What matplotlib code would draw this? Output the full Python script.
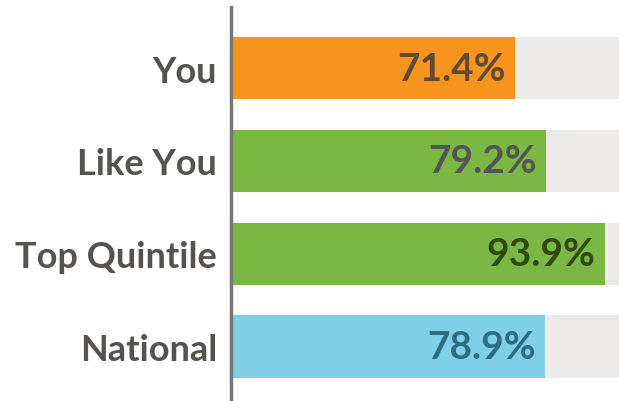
import matplotlib
matplotlib.use("Agg")
import matplotlib.pyplot as plt

# Data
categories = ["You", "Like You", "Top Quintile", "National"]
values = [71.4, 79.2, 93.9, 78.9]
value_labels = ["71.4%", "79.2%", "93.9%", "78.9%"]

# Styles
bar_colors = ["#F7941E", "#7AB843", "#7AB843", "#80CFE9"]
text_colors = ["#5E4A35", "#555555", "#2F4A0C", "#2A6E80"]
track_color = "#EDEBEA"
label_color = "#555250"

plt.rcParams['font.family'] = ['Lato', 'DejaVu Sans']

fig = plt.figure(figsize=(6.19, 4.02), dpi=100)
ax = fig.add_axes([231 / 619, 0, 1 - 231 / 619, 1])

ypos = list(range(len(categories)))

# gray tracks to 100%
ax.barh(ypos, [100] * len(ypos), height=0.67, color=track_color, zorder=1)
ax.barh(ypos, values, height=0.67, color=bar_colors, zorder=2)

for y, v, lab, c in zip(ypos, values, value_labels, text_colors):
    ax.annotate(lab, (v, y), xytext=(-9, 0), textcoords='offset pixels',
                ha='right', va='center', fontsize=28, fontweight='bold',
                color=c, zorder=3)

ax.set_xlim(0, 97.5)
ax.set_ylim(3.587, -0.744)

ax.set_yticks(ypos)
ax.set_yticklabels(categories, fontsize=26, fontweight='bold', color=label_color)
ax.tick_params(axis='y', length=0, pad=10)
ax.set_xticks([])

for s in ['top', 'right', 'bottom']:
    ax.spines[s].set_visible(False)
ax.spines['left'].set_color('#777777')
ax.spines['left'].set_linewidth(2.5)
ax.spines['left'].set_bounds(-0.657, 3.587)

plt.savefig("out.png", dpi=100)
